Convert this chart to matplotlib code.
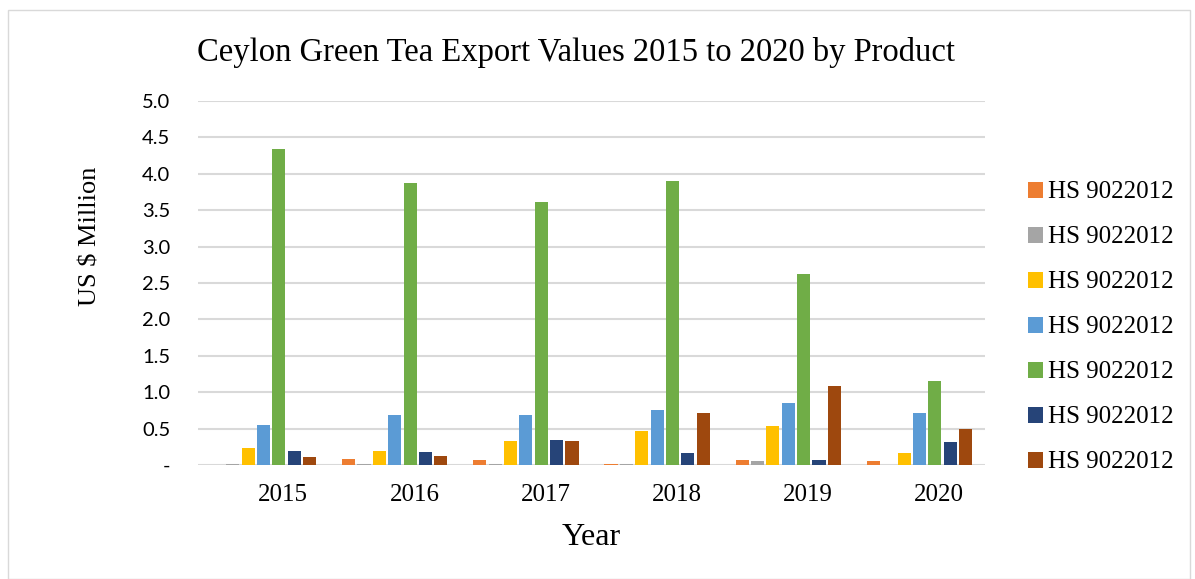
import numpy as np
import matplotlib.pyplot as plt
from matplotlib.patches import Rectangle

years = ['2015', '2016', '2017', '2018', '2019', '2020']
series_names = ['HS 9022012'] * 7
colors = ['#ed7d31', '#a5a5a5', '#ffc000', '#5b9bd5', '#70ad47', '#264478', '#9e480e']

orange = [0.00, 0.08, 0.065, 0.015, 0.075, 0.05]
gray = [0.02, 0.02, 0.02, 0.015, 0.05, 0.00]
yellow = [0.24, 0.19, 0.325, 0.47, 0.54, 0.17]
blue = [0.545, 0.68, 0.68, 0.76, 0.85, 0.72]
green = [4.34, 3.87, 3.61, 3.90, 2.62, 1.16]
navy = [0.19, 0.175, 0.34, 0.17, 0.075, 0.32]
brown = [0.105, 0.12, 0.325, 0.72, 1.09, 0.49]
series = [orange, gray, yellow, blue, green, navy, brown]

serif = 'Liberation Serif'
sans = 'Lato'

fig = plt.figure(figsize=(11.95, 5.79), dpi=100)
ax = fig.add_axes([198/1195, 1 - 465/579, 787/1195, 364/579])

x = np.arange(len(years))
step = 0.117
width = 0.1
for i, (vals, c) in enumerate(zip(series, colors)):
    ax.bar(x + (i - 3) * step, vals, width, color=c, label=series_names[i], zorder=3)

ax.set_xlim(-0.5, len(years) - 0.5)
ax.set_ylim(0, 5.0)
yt = np.arange(0, 5.01, 0.5)
ax.set_yticks(yt)
ax.set_yticklabels(['-'] + ['%.1f' % v for v in yt[1:]], fontfamily=sans, fontsize=14.5)
# year labels sit a little right of the group centres, as in the original
ax.set_xticks(x + 0.15)
ax.set_xticklabels(years, fontfamily=serif, fontsize=18)
ax.tick_params(axis='both', length=0)
ax.tick_params(axis='y', pad=20)
ax.tick_params(axis='x', pad=14)
ax.grid(axis='y', color='#d9d9d9', linewidth=1.5, zorder=0)
for s in ax.spines.values():
    s.set_visible(False)

ax.set_xlabel('Year', fontfamily=serif, fontsize=23, labelpad=12)
fig.text(91/1195, 1 - 236/579, 'US $ Million', rotation=90, fontfamily=serif,
         fontsize=19, ha='center', va='center')
fig.text(576/1195, 1 - 52/579, 'Ceylon Green Tea Export Values 2015 to 2020 by Product',
         fontfamily=serif, fontsize=23.5, ha='center', va='center')

ax.legend(loc='center left', bbox_to_anchor=(1.026, 0.378), frameon=False,
          prop={'family': serif, 'size': 18}, handlelength=0.6, handleheight=0.6,
          handletextpad=0.2, labelspacing=0.92)

fig.patches.append(Rectangle((8/1195, 0), 1182/1195, 1 - 10/579, transform=fig.transFigure,
                             fill=False, edgecolor='#d9d9d9', linewidth=1))

fig.savefig('out.png', dpi=100)
